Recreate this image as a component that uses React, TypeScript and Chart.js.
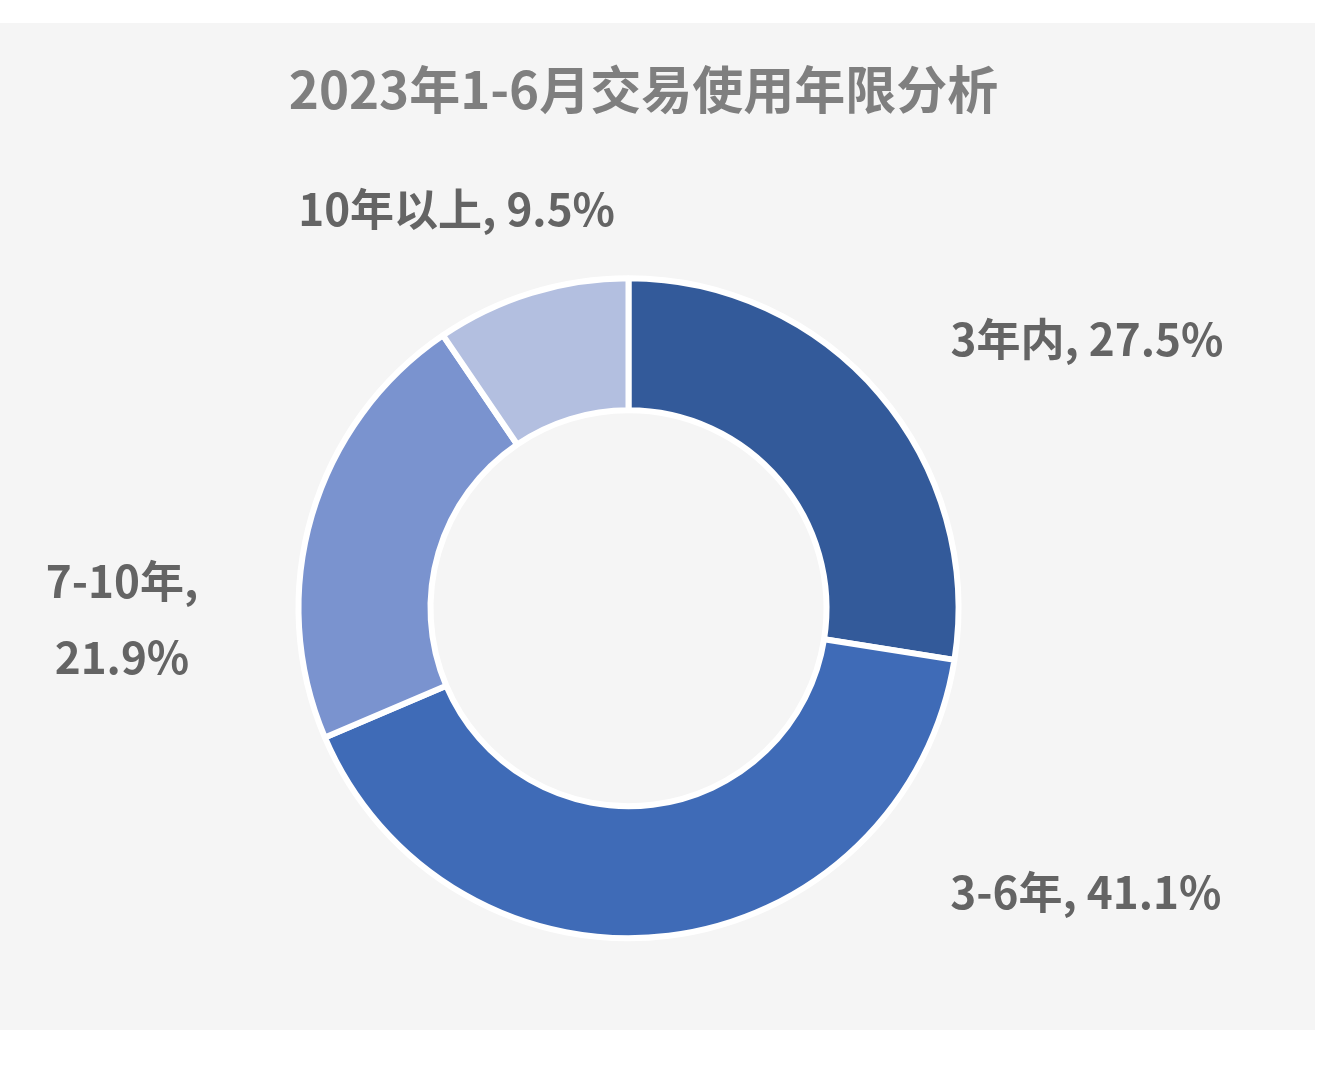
import React, { useEffect, useRef } from "react";
import { Chart, registerables } from "chart.js";

Chart.register(...registerables);

const titleText = "2023年1-6月交易使用年限分析";
const categories = ["3年内", "3-6年", "7-10年", "10年以上"];
const shares = [27.5, 41.1, 21.9, 9.5];
const colors = ["#335a9a", "#3f6bb7", "#7a93cf", "#b3bfe0"];
// label anchor placement relative to the ring (units of outer radius)
const labelAnchors = [
  { dx: 1.389, dy: -0.816, lines: 1 },
  { dx: 1.386, dy: 0.86, lines: 1 },
  { dx: -1.535, dy: 0.033, lines: 2 },
  { dx: -0.521, dy: -1.21, lines: 1 },
];

const FONT = '"Noto Sans CJK SC", "Noto Sans", sans-serif';

const textPlugin = {
  id: "textPlugin",
  afterDraw(chart: any) {
    const ctx = chart.ctx;
    const meta = chart.getDatasetMeta(0);
    const arc0 = meta.data[0];
    if (!arc0) return;
    const cx = arc0.x;
    const cy = arc0.y;
    const r = arc0.outerRadius;
    ctx.save();
    // title
    ctx.fillStyle = "#7f7f7f";
    ctx.font = `bold 51px ${FONT}`;
    ctx.textAlign = "center";
    ctx.textBaseline = "middle";
    ctx.fillText(titleText, 643.5, 67);
    // labels
    ctx.fillStyle = "#646464";
    ctx.font = `bold 44px ${FONT}`;
    const ds = chart.data.datasets[0];
    chart.data.labels.forEach((lab: string, i: number) => {
      const a = labelAnchors[i];
      const x = cx + a.dx * r;
      const y = cy + a.dy * r;
      const pct = `${ds.data[i].toFixed(1)}%`;
      if (a.lines === 2) {
        ctx.fillText(`${lab},`, x, y - 38);
        ctx.fillText(pct, x, y + 38);
      } else {
        ctx.fillText(`${lab}, ${pct}`, x, y);
      }
    });
    ctx.restore();
  },
};

export default function App() {
  const canvasRef = useRef<HTMLCanvasElement | null>(null);
  useEffect(() => {
    if (!canvasRef.current) return;
    const chart = new Chart(canvasRef.current, {
      type: "doughnut",
      data: {
        labels: categories,
        datasets: [
          {
            data: shares,
            backgroundColor: colors,
            borderColor: "#ffffff",
            borderWidth: 6,
          },
        ],
      },
      options: {
        animation: false,
        responsive: true,
        maintainAspectRatio: false,
        cutout: "60%",
        layout: {
          padding: { left: 295.5, right: 353.5, top: 252.25, bottom: 88.75 },
        },
        plugins: {
          legend: { display: false },
          tooltip: { enabled: false },
          title: { display: false },
        },
      },
      plugins: [textPlugin],
    });
    return () => chart.destroy();
  }, []);
  return (
    <div style={{ position: "absolute", left: 0, top: 0, width: 1320, height: 1066, background: "#ffffff" }}>
      <div style={{ position: "absolute", left: 0, top: 23, width: 1315, height: 1007, background: "#f5f5f5" }}>
        <canvas ref={canvasRef} />
      </div>
    </div>
  );
}
